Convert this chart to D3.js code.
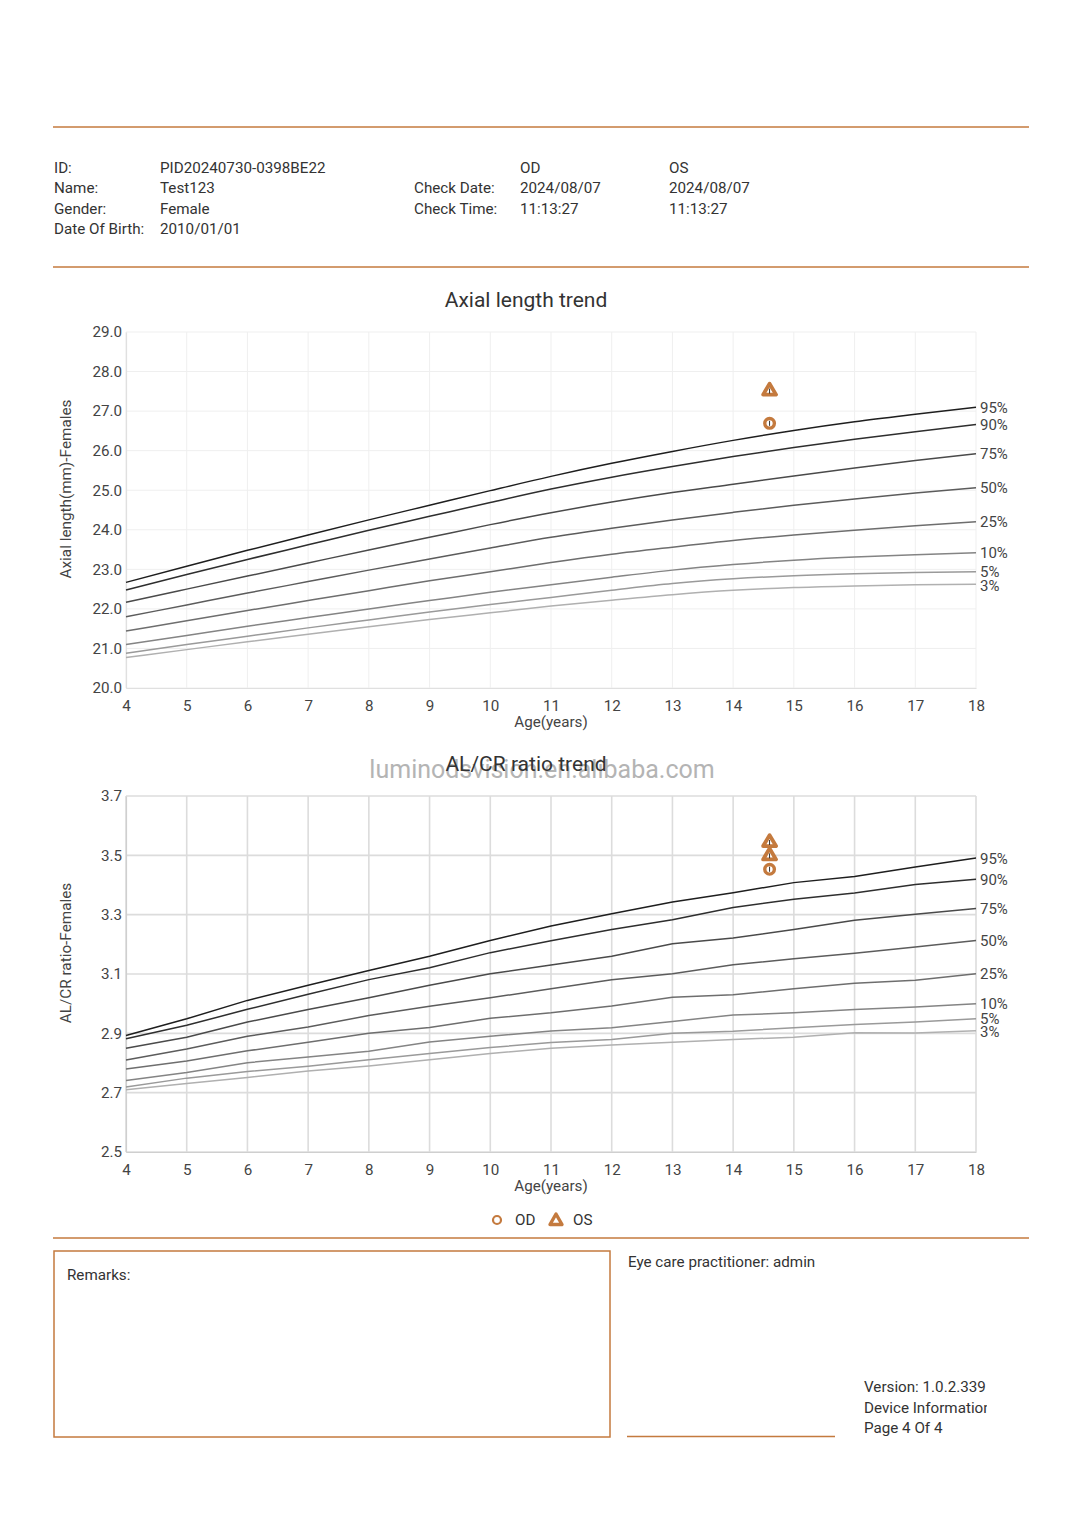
<!DOCTYPE html>
<html><head><meta charset="utf-8">
<script src="https://cdn.jsdelivr.net/npm/d3@7"></script>
<style>
body{margin:0;background:#fff;}
svg{display:block;font-family:Roboto,"Noto Sans",sans-serif;}
</style></head>
<body><svg id="c" width="1083" height="1536"></svg>
<script>
// ---------- DATA ----------
const ages = [4,5,6,7,8,9,10,11,12,13,14,15,16,17,18];
const percentiles = ["95%","90%","75%","50%","25%","10%","5%","3%"];
const al95 = [22.67,23.08,23.48,23.87,24.25,24.62,24.99,25.35,25.68,25.98,26.26,26.51,26.73,26.92,27.10];
const al90 = [22.48,22.87,23.25,23.62,23.99,24.34,24.69,25.03,25.33,25.60,25.85,26.08,26.29,26.48,26.66];
const al75 = [22.17,22.50,22.83,23.16,23.49,23.81,24.13,24.43,24.70,24.94,25.15,25.36,25.56,25.75,25.92];
const al50 = [21.80,22.10,22.40,22.69,22.98,23.26,23.54,23.81,24.04,24.25,24.44,24.62,24.78,24.93,25.06];
const al25 = [21.44,21.70,21.96,22.21,22.46,22.71,22.94,23.17,23.38,23.56,23.73,23.87,23.99,24.10,24.20];
const al10 = [21.10,21.33,21.56,21.78,22.00,22.21,22.42,22.61,22.80,22.98,23.12,23.23,23.31,23.37,23.42];
const al05 = [20.88,21.10,21.31,21.52,21.72,21.92,22.11,22.29,22.47,22.64,22.76,22.84,22.89,22.92,22.94];
const al03 = [20.77,20.97,21.17,21.36,21.55,21.73,21.90,22.07,22.22,22.36,22.47,22.54,22.58,22.61,22.62];

const ratio95 = [2.893,2.949,3.011,3.062,3.112,3.160,3.213,3.262,3.303,3.343,3.374,3.408,3.429,3.461,3.491];
const ratio90 = [2.882,2.927,2.981,3.032,3.081,3.121,3.172,3.212,3.250,3.283,3.324,3.352,3.373,3.402,3.419];
const ratio75 = [2.850,2.887,2.938,2.980,3.020,3.062,3.101,3.130,3.160,3.202,3.221,3.250,3.281,3.301,3.321];
const ratio50 = [2.810,2.847,2.890,2.921,2.960,2.991,3.020,3.050,3.081,3.101,3.131,3.151,3.170,3.191,3.213];
const ratio25 = [2.780,2.807,2.841,2.870,2.900,2.920,2.951,2.969,2.992,3.022,3.030,3.050,3.069,3.079,3.101];
const ratio10 = [2.741,2.768,2.801,2.820,2.840,2.871,2.890,2.908,2.919,2.940,2.962,2.969,2.980,2.989,3.000];
const ratio05 = [2.719,2.749,2.771,2.789,2.811,2.832,2.852,2.869,2.879,2.900,2.907,2.919,2.930,2.938,2.949];
const ratio03 = [2.710,2.731,2.751,2.773,2.790,2.811,2.832,2.850,2.861,2.870,2.879,2.887,2.902,2.901,2.909];

const alTicks = [20,21,22,23,24,25,26,27,28,29];
const ratioTicks = [2.5,2.7,2.9,3.1,3.3,3.5,3.7];
const ageTicks = [4,5,6,7,8,9,10,11,12,13,14,15,16,17,18];

const examAge = [14.6];
const odAL = [26.69];
const osAL = [27.52];
const odRatio = [3.453];
const osRatio = [3.545, 3.50];

const headerLeftLabels = ["ID:","Name:","Gender:","Date Of Birth:"];
const headerLeftValues = ["PID20240730-0398BE22","Test123","Female","2010/01/01"];
const headerMidLabels = ["","Check Date:","Check Time:",""];
const headerOD = ["OD","2024/08/07","11:13:27",""];
const headerOS = ["OS","2024/08/07","11:13:27",""];

// ---------- DRAW ----------
const svg = d3.select("#c");
const ORANGE = "#c47a3e";
const TXT = "#333";
const FS = 15.2;
const lineColors = ["#1e1e1e","#2e2e2e","#4a4a4a","#5c5c5c","#6e6e6e","#848484","#9a9a9a","#b0b0b0"];

// rules
[127, 267, 1238].forEach(y => svg.append("line").attr("x1",53).attr("x2",1029).attr("y1",y).attr("y2",y)
  .attr("stroke",ORANGE).attr("stroke-width",1.5));

// header
const rowY = [172.5,193,213.5,234];
const hdr = svg.append("g").attr("font-size",FS).attr("fill",TXT);
rowY.forEach((y,i)=>{
  hdr.append("text").attr("x",54).attr("y",y).text(headerLeftLabels[i]);
  hdr.append("text").attr("x",160).attr("y",y).text(headerLeftValues[i]);
  if(headerMidLabels[i]) hdr.append("text").attr("x",414).attr("y",y).text(headerMidLabels[i]);
  if(headerOD[i]) hdr.append("text").attr("x",520).attr("y",y).text(headerOD[i]);
  if(headerOS[i]) hdr.append("text").attr("x",669).attr("y",y).text(headerOS[i]);
});

function chart(cfg){
  const x = d3.scaleLinear().domain([4,18]).range([126,976]);
  const y = d3.scaleLinear().domain(cfg.domain).range([cfg.bottom,cfg.top]);
  const g = svg.append("g");
  // title
  g.append("text").attr("x",526).attr("y",cfg.top-25).attr("text-anchor","middle")
    .attr("font-size",21).attr("fill",TXT).text(cfg.title);
  // grid
  g.append("g").selectAll("line").data(cfg.yTicks).join("line")
    .attr("x1",x(4)).attr("x2",x(18)).attr("y1",d=>y(d)).attr("y2",d=>y(d))
    .attr("stroke",cfg.gridColor).attr("stroke-width",cfg.gridW);
  g.append("g").selectAll("line").data(ageTicks).join("line")
    .attr("y1",y(cfg.domain[0])).attr("y2",y(cfg.domain[1])).attr("x1",d=>x(d)).attr("x2",d=>x(d))
    .attr("stroke",cfg.gridColor).attr("stroke-width",cfg.gridW);
  // axes
  const ya = d3.axisLeft(y).tickValues(cfg.yTicks).tickFormat(d3.format(".1f")).tickSize(0).tickPadding(4);
  const yg = g.append("g").attr("transform",`translate(${x(4)},0)`).call(ya);
  yg.select(".domain").attr("stroke",cfg.axisColor).attr("stroke-width",1.2);
  yg.selectAll("text").attr("font-size",FS).attr("fill","#444").attr("font-family","Roboto");
  const xa = d3.axisBottom(x).tickValues(ageTicks).tickFormat(d3.format("d")).tickSize(0).tickPadding(12);
  const xg = g.append("g").attr("transform",`translate(0,${y(cfg.domain[0])})`).call(xa);
  xg.select(".domain").attr("stroke",cfg.axisColor).attr("stroke-width",1.2);
  xg.selectAll("text").attr("font-size",FS).attr("fill","#444").attr("font-family","Roboto");
  g.append("text").attr("x",551).attr("y",cfg.bottom+39).attr("text-anchor","middle")
    .attr("font-size",FS).attr("fill","#444").text("Age(years)");
  g.append("text").attr("transform",`translate(71,${(cfg.top+cfg.bottom)/2-21}) rotate(-90)`)
    .attr("text-anchor","middle").attr("font-size",15.3).attr("fill","#444").text(cfg.yTitle);
  // percentile lines
  const line = d3.line().x((d,i)=>x(ages[i])).y(d=>y(d)).curve(cfg.curve);
  cfg.series.forEach((s,k)=>{
    g.append("path").attr("d",line(s)).attr("fill","none").attr("stroke",lineColors[k]).attr("stroke-width",1.5);
  });
  // labels
  cfg.series.forEach((s,k)=>{
    g.append("text").attr("x",x(18)+4).attr("y",y(s[s.length-1])+cfg.labelDy[k]).attr("dy","0.35em")
      .attr("font-size",15).attr("fill","#444").text(percentiles[k]);
  });
  // markers
  cfg.od.forEach(v=>drawCircle(g, x(examAge[0]), y(v)));
  cfg.os.forEach(v=>drawTri(g, x(examAge[0]), y(v)));
  return g;
}
function drawCircle(g,cx,cy){
  g.append("circle").attr("cx",cx).attr("cy",cy).attr("r",4.8).attr("fill","#fff").attr("stroke",ORANGE).attr("stroke-width",3.4);
  g.append("line").attr("x1",cx).attr("x2",cx).attr("y1",cy-2.5).attr("y2",cy+2.5).attr("stroke","#333").attr("stroke-width",1);
}
function drawTri(g,cx,cy){
  const r=6.8;
  g.append("path").attr("d",`M${cx},${cy-r}L${cx+r*0.95},${cy+r*0.6}L${cx-r*0.95},${cy+r*0.6}Z`)
    .attr("fill","#fff").attr("stroke",ORANGE).attr("stroke-width",3.8).attr("stroke-linejoin","round");
  g.append("line").attr("x1",cx).attr("x2",cx).attr("y1",cy-2).attr("y2",cy+3).attr("stroke","#333").attr("stroke-width",1);
}

chart({title:"Axial length trend", domain:[20,29], top:332, bottom:688, yTicks:alTicks,
  yTitle:"Axial length(mm)-Females", gridColor:"#efefef", gridW:1, axisColor:"#e0e0e0",
  curve:d3.curveMonotoneX, series:[al95,al90,al75,al50,al25,al10,al05,al03],
  labelDy:[1,0,0,0,0,0,0,1], od:odAL, os:osAL});

// watermark (drawn before second title so title overlays)
svg.append("text").attr("x",542).attr("y",778).attr("text-anchor","middle").attr("font-size",25)
  .attr("fill","#b4b4b4").attr("font-family","Roboto").text("luminodsvision.en.alibaba.com");

chart({title:"AL/CR ratio trend", domain:[2.5,3.7], top:796, bottom:1152, yTicks:ratioTicks,
  yTitle:"AL/CR ratio-Females", gridColor:"#dcdcdc", gridW:1.6, axisColor:"#cfcfcf",
  curve:d3.curveLinear, series:[ratio95,ratio90,ratio75,ratio50,ratio25,ratio10,ratio05,ratio03],
  labelDy:[1,0,0,0,0,0,0,1], od:odRatio, os:osRatio});

// legend
const lg = svg.append("g");
lg.append("circle").attr("cx",497).attr("cy",1220).attr("r",4).attr("fill","#fff").attr("stroke",ORANGE).attr("stroke-width",2.2);
lg.append("text").attr("x",515).attr("y",1223).attr("dy","0.15em").attr("font-size",FS).attr("fill",TXT).text("OD");
lg.append("path").attr("d","M556,1214L562,1224.5L550,1224.5Z").attr("fill","#fff").attr("stroke",ORANGE).attr("stroke-width",3.4).attr("stroke-linejoin","round");
lg.append("text").attr("x",573).attr("y",1223).attr("dy","0.15em").attr("font-size",FS).attr("fill",TXT).text("OS");

// footer
svg.append("rect").attr("x",54).attr("y",1251).attr("width",556).attr("height",186).attr("fill","none").attr("stroke",ORANGE).attr("stroke-width",1.5);
svg.append("text").attr("x",67).attr("y",1280).attr("font-size",FS).attr("fill",TXT).text("Remarks:");
svg.append("text").attr("x",628).attr("y",1267).attr("font-size",FS).attr("fill",TXT).text("Eye care practitioner: admin");
svg.append("line").attr("x1",627).attr("x2",835).attr("y1",1436.5).attr("y2",1436.5).attr("stroke",ORANGE).attr("stroke-width",1.5);
svg.append("defs").append("clipPath").attr("id","clipF").append("rect").attr("x",850).attr("y",1370).attr("width",137).attr("height",80);
const ft = svg.append("g").attr("clip-path","url(#clipF)").attr("font-size",FS).attr("fill",TXT);
ft.append("text").attr("x",864).attr("y",1392).text("Version: 1.0.2.339");
ft.append("text").attr("x",864).attr("y",1413).text("Device Information");
ft.append("text").attr("x",864).attr("y",1433).text("Page 4 Of 4");
</script></body></html>
